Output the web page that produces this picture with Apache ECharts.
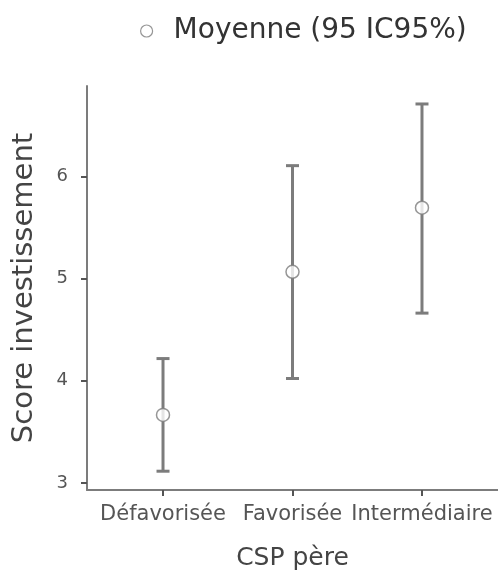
<!DOCTYPE html>
<html>
<head>
<meta charset="utf-8">
<script src="https://cdn.jsdelivr.net/npm/echarts@6/dist/echarts.min.js"></script>
<style>
  html, body { margin: 0; padding: 0; background: #fff; }
  #chart { width: 498px; height: 576px; }
</style>
</head>
<body>
<div id="chart"></div>
<script>
  // données
  var categories = ['Défavorisée', 'Favorisée', 'Intermédiaire'];
  var means = [3.665, 5.067, 5.694];
  var ciLow = [3.114, 4.022, 4.662];
  var ciHigh = [4.217, 6.106, 6.71];
  var yTicks = [3, 4, 5, 6];

  var chart = echarts.init(document.getElementById('chart'));
  var font = 'DejaVu Sans';
  var gray = '#7c7c7c';

  chart.setOption({
    animation: false,
    textStyle: { fontFamily: font },
    legend: {
      top: 12,
      left: 135,
      itemWidth: 12,
      itemHeight: 12,
      itemStyle: { borderWidth: 1.2 },
      textStyle: { fontSize: 28, color: '#333', fontFamily: font, padding: [0, 0, 0, 16] },
      data: ['Moyenne (95 IC95%)']
    },
    grid: { left: 87, right: 0, top: 86, bottom: 84 },
    xAxis: {
      type: 'value',
      min: -0.587,
      max: 2.587,
      name: 'CSP père',
      nameLocation: 'middle',
      nameGap: 56,
      nameTextStyle: { fontSize: 25, color: '#444' },
      splitLine: { show: false },
      axisLine: { onZero: false, lineStyle: { color: gray, width: 2 } },
      axisTick: { customValues: [0, 1, 2], length: 6, lineStyle: { color: '#555', width: 2 } },
      axisLabel: {
        customValues: [0, 1, 2],
        formatter: function (v) { return categories[Math.round(v)]; },
        fontSize: 21, color: '#555', margin: 14
      }
    },
    yAxis: {
      type: 'value',
      min: 2.93,
      max: 6.886,
      name: 'Score investissement',
      nameLocation: 'middle',
      nameGap: 48,
      nameTextStyle: { fontSize: 29, color: '#444' },
      splitLine: { show: false },
      axisLine: { show: true, onZero: false, lineStyle: { color: gray, width: 2 } },
      axisTick: { show: true, customValues: yTicks, length: 6, lineStyle: { color: '#555', width: 2 } },
      axisLabel: { customValues: yTicks, fontSize: 18, color: '#555', margin: 19 }
    },
    series: [
      {
        type: 'custom',
        silent: true,
        z: 2,
        data: categories.map(function (c, i) { return [i, ciLow[i], ciHigh[i]]; }),
        renderItem: function (params, api) {
          var lo = api.coord([api.value(0), api.value(1)]);
          var hi = api.coord([api.value(0), api.value(2)]);
          var w = 6.5;
          var st = { stroke: gray, lineWidth: 3 };
          return {
            type: 'group',
            children: [
              { type: 'line', shape: { x1: lo[0], y1: lo[1], x2: hi[0], y2: hi[1] }, style: st },
              { type: 'line', shape: { x1: lo[0] - w, y1: lo[1], x2: lo[0] + w, y2: lo[1] }, style: st },
              { type: 'line', shape: { x1: hi[0] - w, y1: hi[1], x2: hi[0] + w, y2: hi[1] }, style: st }
            ]
          };
        }
      },
      {
        name: 'Moyenne (95 IC95%)',
        type: 'scatter',
        z: 3,
        symbol: 'circle',
        symbolSize: 13,
        itemStyle: { color: '#fff', borderColor: gray, borderWidth: 1.5 },
        data: means.map(function (m, i) { return [i, m]; })
      }
    ]
  });
</script>
</body>
</html>
